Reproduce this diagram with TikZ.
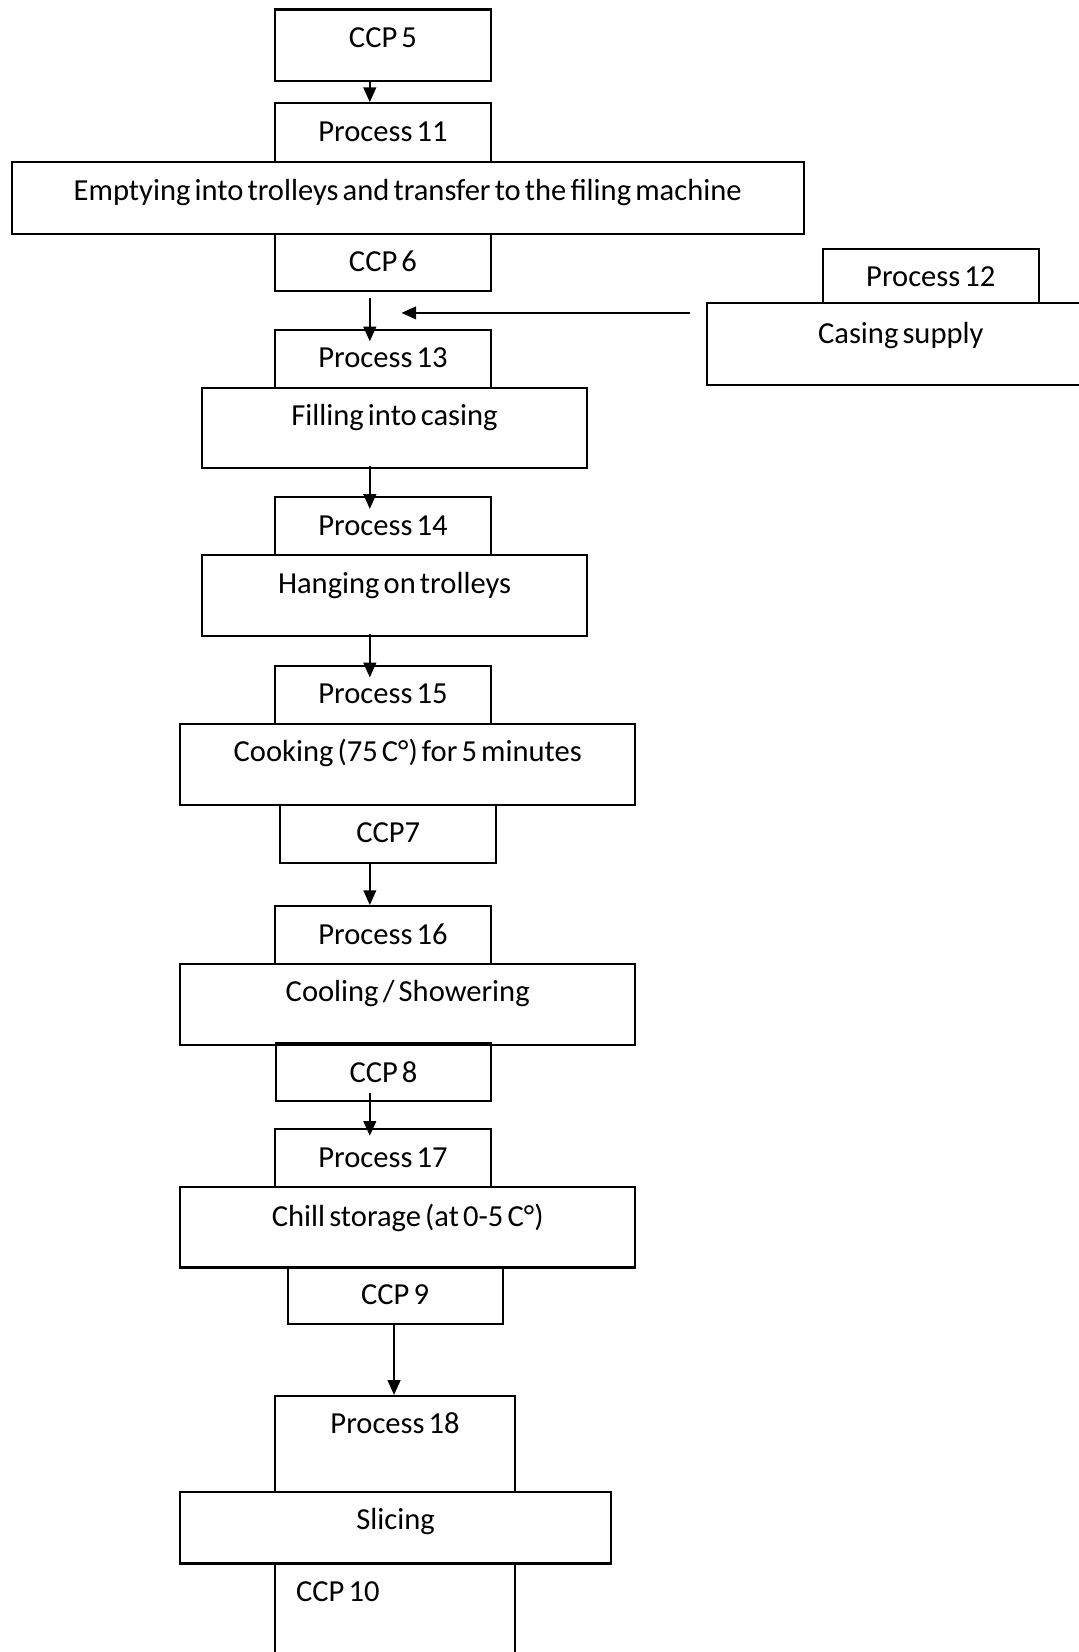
\documentclass[tikz,border=0pt]{standalone}
\usepackage{fontspec}
\setmainfont[WordSpace=0.6]{Carlito}
\usetikzlibrary{arrows.meta,calc}
\begin{document}
\begin{tikzpicture}[x=1pt,y=-1pt,
  box/.style 2 args={draw, line width=2pt, inner sep=0pt, anchor=north west,
    minimum width=#1, text height=36pt, text depth=#2,
    font=\fontsize{29}{34}\selectfont},
  arr/.style={line width=2pt, -{Triangle[width=12pt,length=14pt]}}]
\clip (0,0) rectangle (1024,1568);
\useasboundingbox (0,0) rectangle (1024,1568);
\coordinate (ax) at (351,0);
\coordinate (axb) at (374,0);
\node[box={205pt}{32pt}] (ccp5) at (260,8) {CCP 5};
\node[box={205pt}{20pt}] (p11) at (260,97) {Process 11};
\node[box={752pt}{32pt}] (empt) at (10,153) {Emptying into trolleys and transfer to the filing machine};
\node[box={205pt}{18pt}] (ccp6) at (260,221) {CCP 6};
\node[box={205pt}{16pt}] (p12) at (780,235) {Process 12};
\node[box={368pt}{39pt}, text height=38pt] (casing) at (670,287) {Casing supply};
\node[box={205pt}{19pt}] (p13) at (260,312) {Process 13};
\node[box={365pt}{40pt}] (fill) at (191,367) {Filling into casing};
\node[box={205pt}{19pt}] (p14) at (260,471) {Process 14};
\node[box={365pt}{41pt}] (hang) at (191,526) {Hanging on trolleys};
\node[box={205pt}{19pt}] (p15) at (260,631) {Process 15};
\node[box={432pt}{41pt}] (cook) at (170,686) {Cooking (75 C°) for 5 minutes};
\node[box={205pt}{19pt}] (ccp7) at (265,763) {CCP7};
\node[box={205pt}{19pt}] (p16) at (260,859) {Process 16};
\node[box={432pt}{41pt}] (cool) at (170,914) {Cooling / Showering};
\node[box={204pt}{18pt}, text height=37pt] (ccp8) at (261,989) {CCP 8};
\node[box={205pt}{19pt}] (p17) at (260,1071) {Process 17};
\node[box={432pt}{39pt}, text height=37pt] (chill) at (170,1126) {Chill storage (at 0-5 C°)};
\node[box={204pt}{19pt}, text height=35pt] (ccp9) at (272,1202) {CCP 9};
\node[box={228pt}{55pt}] (p18) at (260,1324) {Process 18};
\node[box={409pt}{32pt}] (slice) at (170,1415) {Slicing};
\node[box={228pt}{84pt}, inner xsep=20pt, text width=188pt, align=flush left] (ccp10) at (260,1483) {CCP 10};
\coordinate (h2) at (381,297);
\draw[arr] (ccp5.south -| ax) -- (p11.north -| ax);
\draw[arr, shorten <=6pt, shorten >=-12pt] (ccp6.south -| ax) -- (p13.north -| ax);
\draw[arr, shorten <=-3pt, shorten >=-12pt] (fill.south -| ax) -- (p14.north -| ax);
\draw[arr, shorten <=-3pt, shorten >=-12pt] (hang.south -| ax) -- (p15.north -| ax);
\draw[arr] (ccp7.south -| ax) -- (p16.north -| ax);
\draw[arr, shorten <=-9pt, shorten >=-7pt] (ccp8.south -| ax) -- (p17.north -| ax);
\draw[arr] (ccp9.south -| axb) -- (p18.north -| axb);
\draw[arr] ($(casing.north west)+(-15,10)$) -- (h2);
\end{tikzpicture}
\end{document}
